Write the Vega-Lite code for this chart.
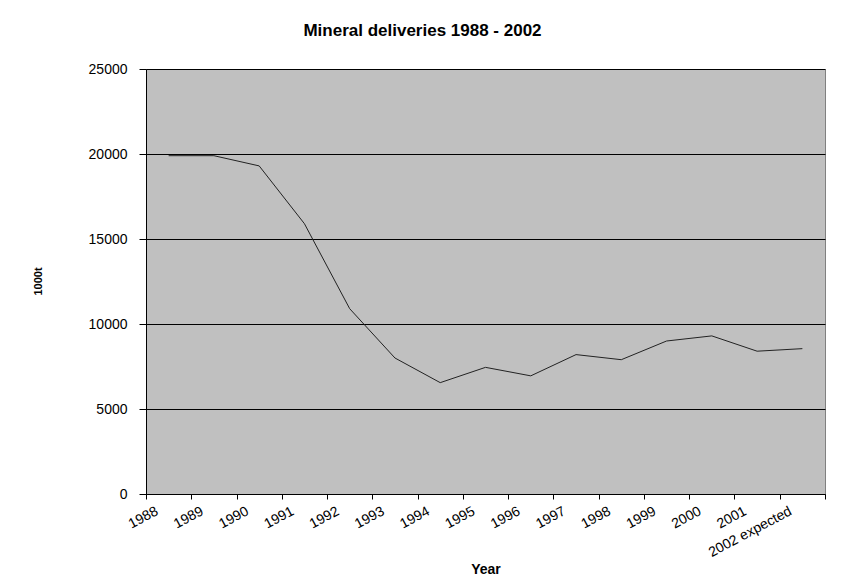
{
  "$schema": "https://vega.github.io/schema/vega-lite/v6.json",
  "autosize": "none",
  "width": 679,
  "height": 425,
  "padding": {"left": 146, "top": 69, "right": 19, "bottom": 87},
  "background": "white",
  "title": {
    "text": "Mineral deliveries 1988 - 2002",
    "font": "Liberation Sans",
    "fontSize": 17,
    "fontWeight": "bold",
    "color": "black",
    "anchor": "middle",
    "dx": -63,
    "offset": 22
  },
  "config": {
    "view": {"fill": "#c0c0c0", "stroke": "#808080", "strokeWidth": 1},
    "axis": {
      "labelFont": "Liberation Sans",
      "titleFont": "Liberation Sans",
      "labelColor": "black",
      "titleColor": "black",
      "domainColor": "black",
      "tickColor": "black",
      "labelFontSize": 14
    }
  },
  "data": {
    "values": [
      {"year": "1988", "deliveries": 19900},
      {"year": "1989", "deliveries": 19900},
      {"year": "1990", "deliveries": 19300},
      {"year": "1991", "deliveries": 15900},
      {"year": "1992", "deliveries": 10900},
      {"year": "1993", "deliveries": 8000},
      {"year": "1994", "deliveries": 6550},
      {"year": "1995", "deliveries": 7450},
      {"year": "1996", "deliveries": 6950},
      {"year": "1997", "deliveries": 8200},
      {"year": "1998", "deliveries": 7900},
      {"year": "1999", "deliveries": 9000},
      {"year": "2000", "deliveries": 9300},
      {"year": "2001", "deliveries": 8400},
      {"year": "2002 expected", "deliveries": 8550}
    ]
  },
  "mark": {"type": "line", "color": "#222222", "strokeWidth": 1},
  "encoding": {
    "x": {
      "field": "year",
      "type": "ordinal",
      "sort": null,
      "scale": {"type": "band", "paddingInner": 0, "paddingOuter": 0},
      "axis": {
        "title": "Year",
        "titleFontSize": 14,
        "titleFontWeight": "bold",
        "titleY": 75,
        "titleBaseline": "middle",
        "labelAngle": -28,
        "labelAlign": "right",
        "labelBaseline": "middle",
        "labelOffset": -12,
        "labelPadding": 11,
        "tickBand": "extent",
        "tickSize": 5,
        "grid": false,
        "labelFontSize": 14
      }
    },
    "y": {
      "field": "deliveries",
      "type": "quantitative",
      "scale": {"domain": [0, 25000], "nice": false},
      "axis": {
        "title": "1000t",
        "titleFont": "Liberation Sans",
        "titleFontSize": 11,
        "titleFontWeight": "bold",
        "titleX": -108,
        "titleY": 212,
        "titleAngle": -90,
        "titleAlign": "center",
        "titleBaseline": "middle",
        "values": [0, 5000, 10000, 15000, 20000, 25000],
        "format": "d",
        "labelPadding": 12,
        "tickSize": 7,
        "grid": true,
        "gridColor": "black",
        "gridOpacity": 1,
        "gridWidth": 1
      }
    }
  }
}
